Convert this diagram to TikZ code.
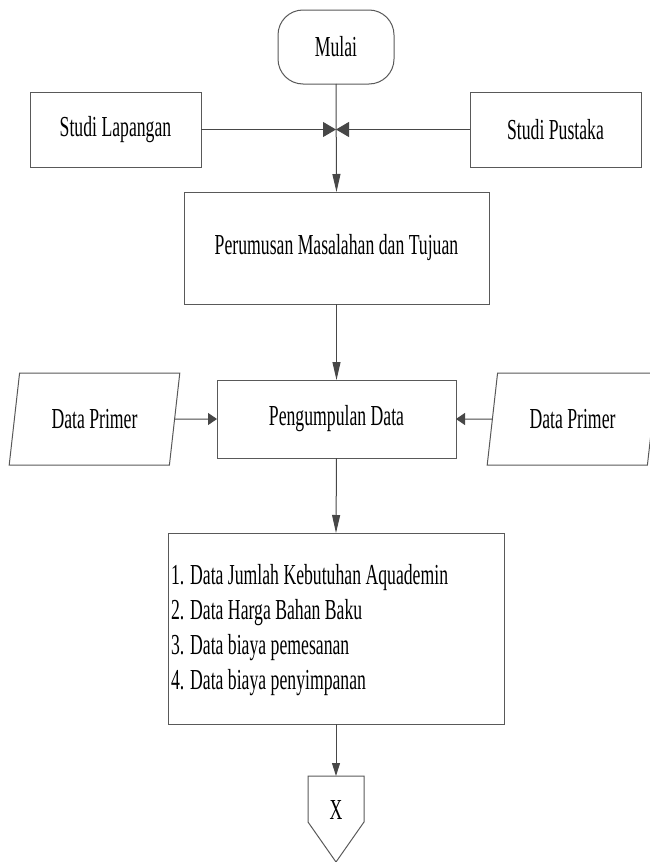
\documentclass[tikz,border=0pt]{standalone}
\usepackage{fontspec}
\setmainfont[FakeStretch=0.61]{Liberation Serif}
\usetikzlibrary{shapes.geometric,arrows.meta,calc}
\begin{document}
\begin{tikzpicture}[x=1pt,y=-1pt,
  every node/.style={inner sep=0pt,outer sep=0pt},
  txt/.style={font=\fontsize{29}{35}\selectfont},
  box/.style={draw=black!65,line width=1pt,fill=white,txt},
  para/.style={box,shape=trapezium,trapezium left angle=73,trapezium right angle=107,trapezium stretches=true},
  conn/.style={draw=black!72,line width=1pt},
  varr/.style={conn,-{Triangle[length=18pt,width=8pt]}},
  harr/.style={conn,-{Triangle[length=9pt,width=12pt]}},
  jarr/.style={conn,-{Triangle[length=13pt,width=15pt]}}]
\useasboundingbox (0,0) rectangle (650,862);
\node[box,rounded corners=25pt,minimum width=116pt,minimum height=74pt] (M) at (336,47) {Mulai};
\node[box,minimum width=171pt,minimum height=75pt] (SL) at (115.5,129.5) {Studi Lapangan};
\node[box,minimum width=171pt,minimum height=75pt] (SP) at (555.5,129.5) {Studi Pustaka};
\coordinate (J) at (336,129.5);
\node[box,minimum width=305pt,minimum height=112pt] (R) at (336.5,248) {Perumusan Masalahan dan Tujuan};
\node[box,minimum width=239pt,minimum height=78pt] (P) at (336.5,419) {Pengumpulan Data};
\node[para,minimum width=171pt,minimum height=92pt] (L) at (94.5,419) {Data Primer};
\node[para,minimum width=171pt,minimum height=92pt] (Q) at (572.5,419) {Data Primer};
\node[box,minimum width=336pt,minimum height=191pt] (B) at (336,628.5) {};
\node[txt,anchor=west,align=left] (BT) at (171,630) {1. Data Jumlah Kebutuhan Aquademin\\2. Data Harga Bahan Baku\\3. Data biaya pemesanan\\4. Data biaya penyimpanan};
\node[minimum width=56pt,minimum height=46pt,anchor=north] (X) at (336,776) {};
\draw[draw=black!65,line width=1pt] (X.north west) -- (X.north east) -- (X.south east) -- ($(X.south)+(0,40)$) -- (X.south west) -- cycle;
\node[txt] (XT) at (336,810) {X};
% connectors
\draw[varr] (M.south) -- (R.north);
\draw[jarr] (SL.east) -- (J);
\draw[jarr] (SP.west) -- (J);
\draw[varr] (R.south) -- (P.north);
\draw[harr] (L.east) -- (P.west);
\draw[harr] (Q.west) -- (P.east);
\draw[varr] (P.south) -- (B.north);
\draw[conn,-{Triangle[length=13pt,width=8pt]}] (B.south) -- (X.north);
\end{tikzpicture}
\end{document}
